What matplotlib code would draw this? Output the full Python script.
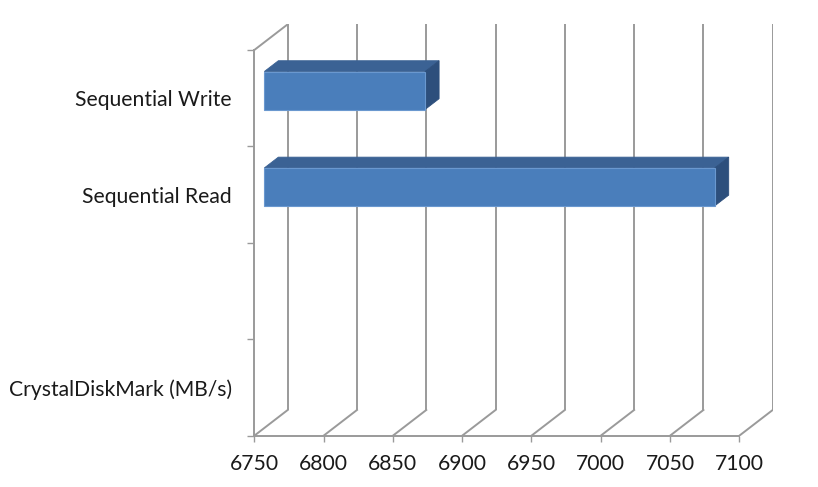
import matplotlib
matplotlib.use("Agg")
import matplotlib.pyplot as plt
from matplotlib.patches import Polygon

plt.rcParams['font.family'] = ['Lato', 'DejaVu Sans']

# ---- data ----
categories = ["CrystalDiskMark (MB/s)", "", "Sequential Read", "Sequential Write"]
values = [None, None, 7075, 6866]
x_ticks = [6750, 6800, 6850, 6900, 6950, 7000, 7050, 7100]
x_min, x_max = 6750, 7100

# ---- style ----
W, H = 818, 487
GRID = '#9a9a9a'
FRONT = '#4a7ebb'
TOP = '#3b6294'
SIDE = '#2d4f7c'
EDGE = '#6a98cf'
TXT = '#1a1a1a'
FS = 15.2

fig = plt.figure(figsize=(W / 100, H / 100), dpi=100)
L, R, B, T = 254.3, 772.7, 435.7, 24.3
ax = fig.add_axes([L / W, 1 - B / H, (R - L) / W, (B - T) / H])

n = len(categories)
DX = 24.1      # depth offset in value units
DY = 0.2666    # depth offset in category units
ax.set_xlim(x_min, x_max + DX)
ax.set_ylim(0, n + DY)

# back wall gridlines and floor diagonals
for v in x_ticks:
    ax.plot([v + DX, v + DX], [DY, n + DY], color=GRID, lw=1.4, zorder=1, solid_capstyle='butt')
    ax.plot([v, v + DX], [0, DY], color=GRID, lw=1.4, zorder=1)
# left wall top diagonal
ax.plot([x_min, x_min + DX], [n, n + DY], color=GRID, lw=1.4, zorder=1)

# bars
d0, d1 = 0.30, 0.72
hh = 0.197
for i, v in enumerate(values):
    if v is None:
        continue
    c = i + 0.5
    y0, y1 = c - hh, c + hh
    fx0, fx1 = x_min + d0 * DX, v + d0 * DX
    fy0, fy1 = y0 + d0 * DY, y1 + d0 * DY
    bx0, bx1 = x_min + d1 * DX, v + d1 * DX
    by0, by1 = y0 + d1 * DY, y1 + d1 * DY
    top = Polygon([(fx0, fy1), (fx1, fy1), (bx1, by1), (bx0, by1)], closed=True,
                  facecolor=TOP, edgecolor=TOP, lw=0.6, zorder=3)
    side = Polygon([(fx1, fy0), (fx1, fy1), (bx1, by1), (bx1, by0)], closed=True,
                   facecolor=SIDE, edgecolor=SIDE, lw=0.6, zorder=3)
    front = Polygon([(fx0, fy0), (fx1, fy0), (fx1, fy1), (fx0, fy1)], closed=True,
                    facecolor=FRONT, edgecolor=EDGE, lw=0.8, zorder=4)
    for p in (top, side, front):
        ax.add_patch(p)

# axes / spines
for s in ('top', 'right'):
    ax.spines[s].set_visible(False)
ax.spines['bottom'].set_bounds(x_min, x_max)
ax.spines['left'].set_bounds(0, n)
for s in ('bottom', 'left'):
    ax.spines[s].set_color(GRID)
    ax.spines[s].set_linewidth(1.4)

ax.set_xticks(x_ticks)
ax.set_xticklabels([str(t) for t in x_ticks])
ax.tick_params(axis='x', direction='out', length=4.5, width=1.0, color=GRID,
               labelsize=FS, labelcolor=TXT, pad=9)
ax.set_yticks(range(n + 1))
ax.set_yticklabels([])
ax.set_yticks([i + 0.5 for i in range(n)], minor=True)
ax.set_yticklabels(categories, minor=True)
ax.tick_params(axis='y', which='major', direction='out', length=5, width=1.0, color=GRID)
ax.tick_params(axis='y', which='minor', length=0, labelsize=FS, labelcolor=TXT, pad=16)

fig.savefig('out.png', dpi=100)
